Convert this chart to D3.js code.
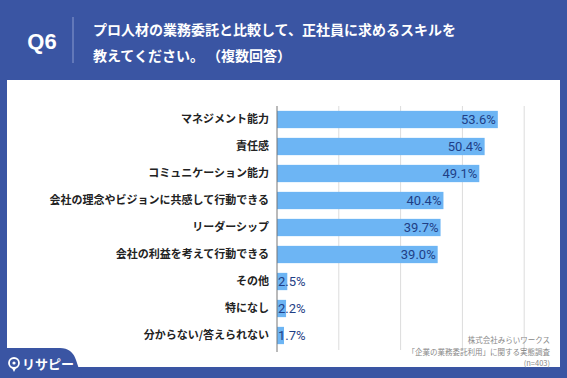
<!DOCTYPE html>
<html>
<head>
<meta charset="utf-8">
<script src="https://cdn.jsdelivr.net/npm/d3@7"></script>
<style>
  body { margin: 0; padding: 0; }
  svg { display: block; font-family: "Noto Sans CJK JP", "Noto Sans", sans-serif; }
  .title { text-spacing-trim: space-all; }
</style>
</head>
<body>
<script>
// Chart data
var categories = [
    "マネジメント能力", "責任感", "コミュニケーション能力",
    "会社の理念やビジョンに共感して行動できる", "リーダーシップ",
    "会社の利益を考えて行動できる", "その他", "特になし", "分からない/答えられない"
];
var values = [53.6, 50.4, 49.1, 40.4, 39.7, 39.0, 2.5, 2.2, 1.7];
var gridTicks = [15, 30, 45, 60];
var titleLines = ["プロ人材の業務委託と比較して、正社員に求めるスキルを", "教えてください。 （複数回答）"];
var noteLines = ["株式会社みらいワークス", "「企業の業務委託利用」に関する実態調査", "(n=403)"];

var W = 567, H = 378;
var blue = "#3a55a3";

var svg = d3.select("body").append("svg")
    .attr("width", W).attr("height", H);

// background + white panel
svg.append("rect").attr("width", W).attr("height", H).attr("fill", blue);
svg.append("rect").attr("x", 7).attr("y", 80).attr("width", 553).attr("height", 287).attr("fill", "#fff");

// header
svg.append("text").attr("x", 42).attr("y", 49)
    .attr("text-anchor", "middle").attr("fill", "#fff")
    .style("font-family", "'Liberation Sans', Arial, sans-serif")
    .style("font-size", "22px").style("font-weight", "bold").text("Q6");
svg.append("line").attr("x1", 73).attr("x2", 73).attr("y1", 17).attr("y2", 63)
    .attr("stroke", "#8a9ccf").attr("stroke-width", 1);
svg.append("g").selectAll("text").data(titleLines).enter().append("text")
    .attr("class", "title")
    .attr("x", 93).attr("y", function(d, i) { return 35 + i * 26; })
    .attr("fill", "#fff").style("font-size", "14px").style("font-weight", "bold")
    .style("white-space", "pre")
    .text(function(d) { return d; });

// scales
var margin = {left: 277, top: 106};
var x = d3.scaleLinear().domain([0, 60]).range([margin.left, margin.left + 247.2]);
var y = d3.scaleBand().domain(categories).range([margin.top, margin.top + 27 * categories.length])
    .paddingInner(0.36).paddingOuter(0.18);

// gridlines
svg.append("g").selectAll("line").data(gridTicks).enter().append("line")
    .attr("x1", function(d) { return x(d); }).attr("x2", function(d) { return x(d); })
    .attr("y1", 106).attr("y2", 350)
    .attr("stroke", "#dcdcdc").attr("stroke-width", 1);

// bars
svg.append("g").selectAll("rect").data(values).enter().append("rect")
    .attr("x", x(0))
    .attr("y", function(d, i) { return y(categories[i]); })
    .attr("width", function(d) { return x(d) - x(0); })
    .attr("height", y.bandwidth())
    .attr("fill", "#6db5f4");

// axis line
svg.append("line").attr("x1", x(0)).attr("x2", x(0)).attr("y1", 106).attr("y2", 352)
    .attr("stroke", "#777").attr("stroke-width", 1);

// category labels
svg.append("g").selectAll("text").data(categories).enter().append("text")
    .attr("x", x(0) - 8)
    .attr("y", function(d) { return y(d) + y.bandwidth() / 2; })
    .attr("dy", "0.36em").attr("text-anchor", "end")
    .attr("fill", "#222").style("font-size", "11px").style("font-weight", "bold")
    .text(function(d) { return d; });

// value labels
svg.append("g").selectAll("text").data(values).enter().append("text")
    .attr("x", function(d) { return d > 10 ? x(d) - 2 : x(0) + 1; })
    .attr("y", function(d, i) { return y(categories[i]) + y.bandwidth() / 2; })
    .attr("dy", "0.37em")
    .attr("text-anchor", function(d) { return d > 10 ? "end" : "start"; })
    .attr("fill", "#1f3f86")
    .style("font-family", "Roboto, 'Liberation Sans', sans-serif")
    .style("font-size", "13px")
    .text(function(d) { return d.toFixed(1) + "%"; });

// footnote
svg.append("g").selectAll("text").data(noteLines).enter().append("text")
    .attr("x", 550).attr("y", function(d, i) { return 343 + i * 11.5; })
    .attr("text-anchor", "end").attr("fill", "#888")
    .style("font-size", "7.5px")
    .text(function(d) { return d; });

// logo tab
svg.append("path")
    .attr("d", "M0,348 L60,348 Q72,348 76,360 L82,378 L0,378 Z")
    .attr("fill", blue);
var logo = svg.append("g").attr("transform", "translate(14,364)");
logo.append("circle").attr("cx", 0).attr("cy", -1).attr("r", 5)
    .attr("fill", "none").attr("stroke", "#fff").attr("stroke-width", 1.8);
logo.append("circle").attr("cx", 0).attr("cy", -1).attr("r", 1.6).attr("fill", "#fff");
logo.append("path").attr("d", "M-2,4 L0,8 L2,4 Z").attr("fill", "#fff");
logo.append("text").attr("x", 8).attr("y", 4.5).attr("fill", "#fff")
    .style("font-size", "13px").style("font-weight", "bold").text("リサピー");
</script>
</body>
</html>
